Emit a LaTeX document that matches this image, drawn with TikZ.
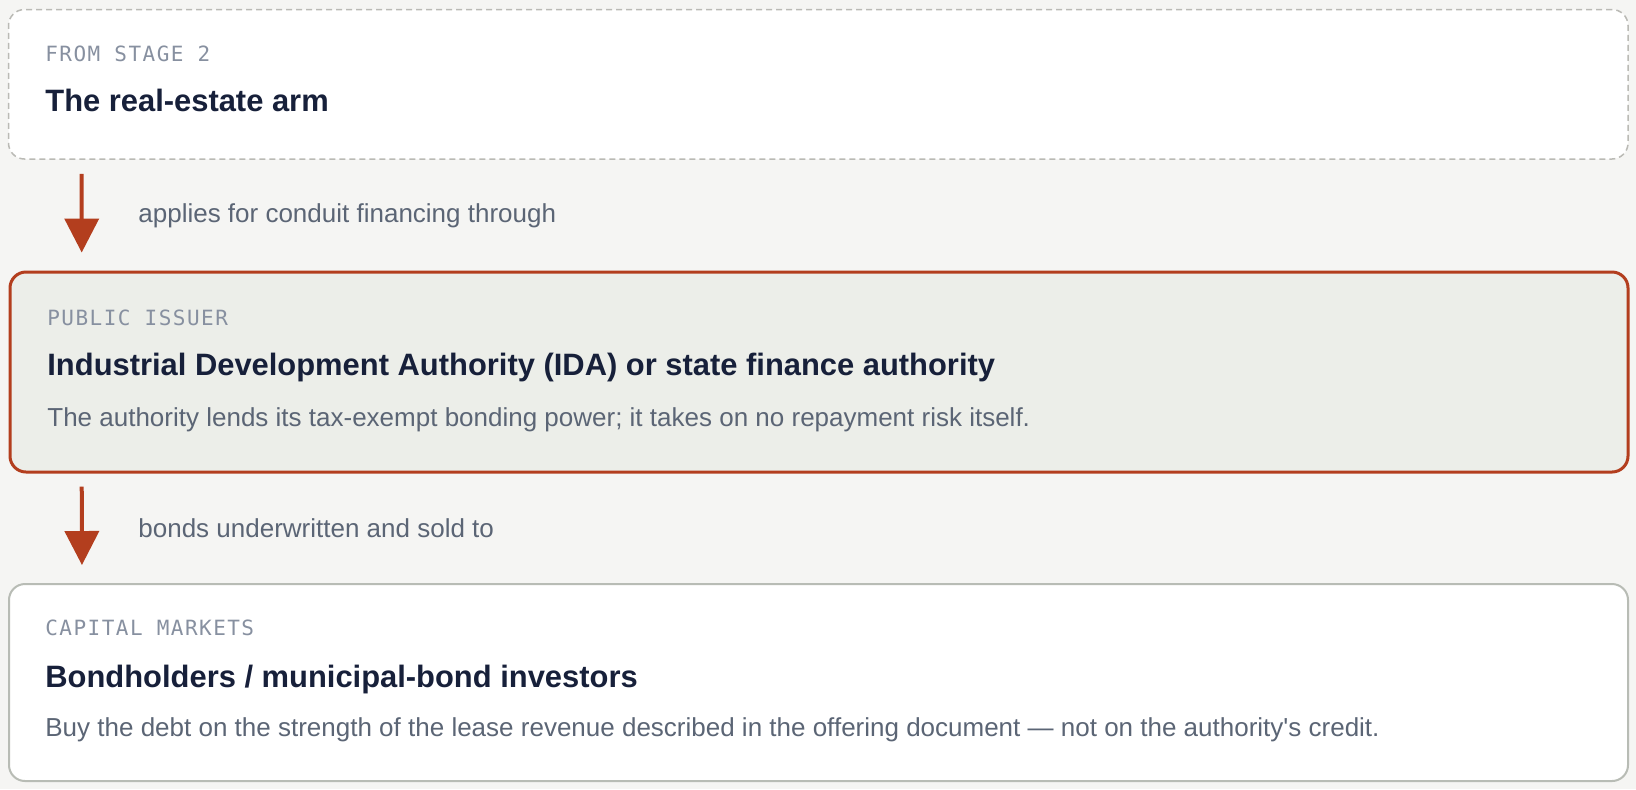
\documentclass[tikz,border=0pt]{standalone}
\usepackage{fontspec}
\setmainfont{Liberation Sans}
\newfontfamily\tagfont[LetterSpace=7]{DejaVu Sans Mono}
\usepackage{xcolor}
\usetikzlibrary{arrows.meta}

\definecolor{paper}{HTML}{F5F5F3}
\definecolor{issuerfill}{HTML}{ECEEE9}
\definecolor{rust}{HTML}{B33E1E}
\definecolor{tagcol}{HTML}{8790A0}
\definecolor{navy}{HTML}{17203A}
\definecolor{slate}{HTML}{5B6575}
\definecolor{dashline}{HTML}{BABAB5}
\definecolor{cardline}{HTML}{B8BCB5}

\begin{document}
\begin{tikzpicture}[x=0.5pt, y=-0.5pt,
    card/.style={rectangle, draw=cardline, line width=1pt, fill=white, rounded corners=8pt, minimum width=809.5pt, anchor=north west, inner sep=0pt},
    prior/.style={card, draw=dashline, line width=0.75pt, dash pattern=on 3pt off 2pt, minimum width=809.75pt},
    issuer/.style={card, draw=rust, line width=1.5pt, fill=issuerfill, minimum width=809pt},
    tag/.style={anchor=base west, inner sep=0pt, text=tagcol, font=\tagfont\fontsize{10.5pt}{12pt}\selectfont},
    head/.style={anchor=base west, inner sep=0pt, text=navy, font=\bfseries\fontsize{15.45pt}{18pt}\selectfont},
    body/.style={anchor=base west, inner sep=0pt, text=slate, font=\fontsize{13pt}{16pt}\selectfont},
    flow/.style={-{Triangle[length=17pt, width=17pt]}, line width=2pt, draw=rust, fill=rust}
]
    % Tlo
    \fill[paper] (0,0) rectangle (1636,789);
    \useasboundingbox (0,0) rectangle (1636,789);

    % Etap 2 - nieruchomosci
    \node[prior, minimum height=74.75pt] (estate) at (7.75,8.75) {};
    \node[tag] (estatetag) at (45,61) {FROM STAGE 2};
    \node[head] (estatehead) at (45,111) {The real-estate arm};

    % Emitent publiczny
    \node[issuer, minimum height=100pt] (ida) at (8.5,270.5) {};
    \node[tag] (idatag) at (47,325.7) {PUBLIC ISSUER};
    \node[head] (idahead) at (47,375) {Industrial Development Authority (IDA) or state finance authority};
    \node[body] (idabody) at (47,426.7) {The authority lends its tax-exempt bonding power; it takes on no repayment risk itself.};

    % Rynki kapitalowe
    \node[card, minimum height=98.5pt] (market) at (8,583) {};
    \node[tag] (markettag) at (45,635) {CAPITAL MARKETS};
    \node[head] (markethead) at (45,687.3) {Bondholders / municipal-bond investors};
    \node[body] (marketbody) at (45,736.7) {Buy the debt on the strength of the lease revenue described in the offering document — not on the authority\textquotesingle s credit.};

    % Strzalki przeplywu
    \draw[flow, shorten <=7pt, shorten >=9pt] ([xshift=37pt]estate.south west) -- ([xshift=36.6pt]ida.north west);
    \draw[flow, shorten <=6.5pt, shorten >=9pt] ([xshift=36.6pt]ida.south west) -- ([xshift=37pt]market.north west);

    % Opisy strzalek
    \node[body] (applies) at (138,222.7) {applies for conduit financing through};
    \node[body] (sold) at (138,537) {bonds underwritten and sold to};
\end{tikzpicture}
\end{document}
